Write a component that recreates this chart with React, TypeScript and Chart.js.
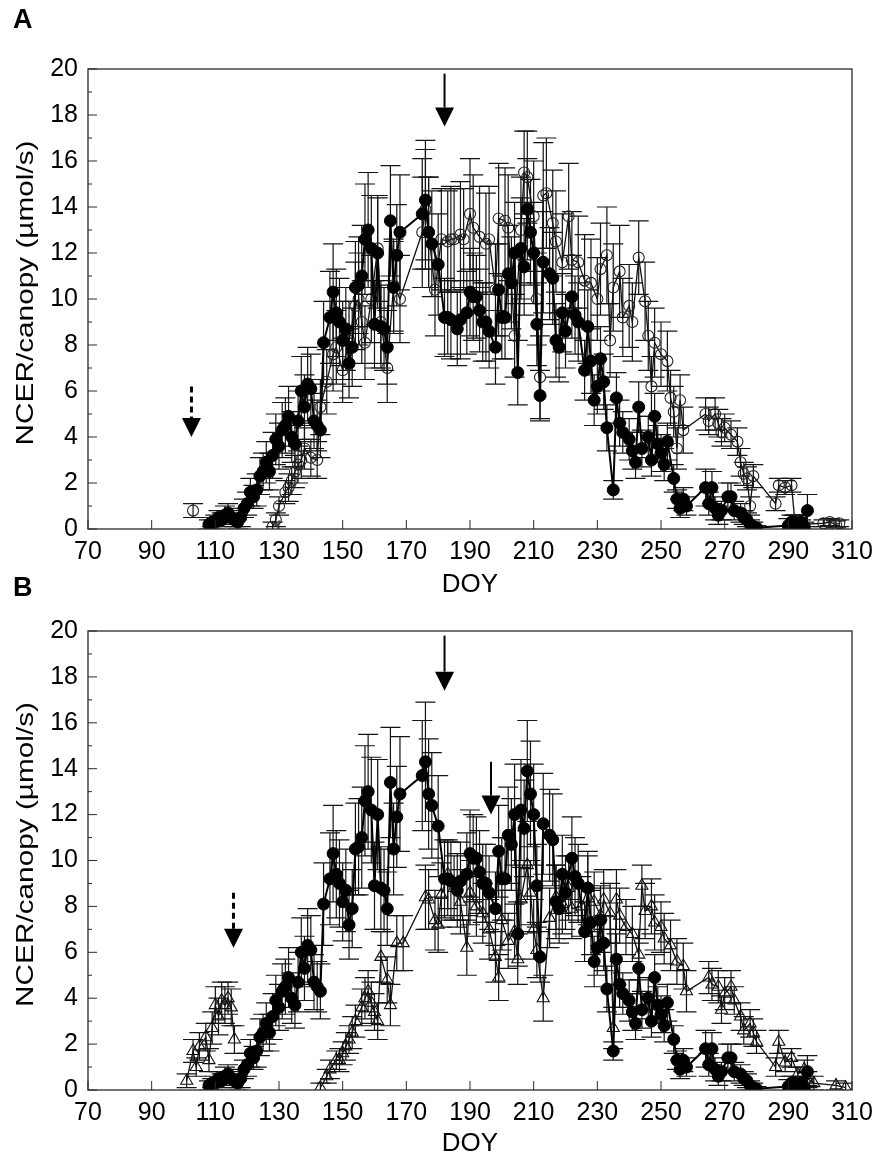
import { useEffect, useRef } from 'react';
import { Chart, registerables } from 'chart.js';

Chart.register(...registerables);

const FONT = "'Liberation Sans', Arial, sans-serif";

// axis ticks
const xTicks = [70, 90, 110, 130, 150, 170, 190, 210, 230, 250, 270, 290, 310];
const yTicks = [0, 2, 4, 6, 8, 10, 12, 14, 16, 18, 20];
const yMinorTicks = [1, 3, 5, 7, 9, 11, 13, 15, 17, 19];

// filled circles (same series in A and B)
const filledDoy = [
  108, 109, 110, 111, 112, 113, 114, 115, 116, 117, 118, 119, 120, 121, 122, 123, 124, 125, 126, 127,
  128, 129, 130, 131, 132, 133, 134, 135, 136, 137, 138, 139, 140, 141, 142, 143, 144, 146, 147, 148,
  149, 150, 151, 152, 153, 154, 155, 156, 157, 158, 159, 160, 161, 162, 163, 164, 165, 166, 167, 168,
  175, 176, 177, 178, 180, 182, 183, 184, 186, 187, 189, 190, 191, 192, 193, 194, 195, 196, 198, 199,
  200, 201, 202, 203, 204, 205, 206, 207, 208, 209, 210, 211, 212, 213, 215, 216, 217, 218, 219, 220,
  222, 223, 224, 226, 227, 228, 229, 230, 231, 232, 233, 235, 236, 237, 238, 240, 241, 242, 243, 244,
  246, 247, 248, 249, 250, 251, 252, 254, 255, 256, 257, 258, 264, 265, 266, 267, 268, 269, 271, 272,
  273, 275, 276, 277, 278, 279, 280, 290, 291, 292, 293, 294, 295, 296,
];
const filledMean = [
  0.2, 0.3, 0.3, 0.5, 0.4, 0.6, 0.7, 0.5, 0.4, 0.3, 0.5, 0.9, 1.1, 1.6, 1.4, 1.7, 2.3, 2.5, 2.9, 2.5,
  3.2, 3.9, 3.6, 4.3, 4.5, 4.9, 4.0, 3.7, 4.7, 6.0, 5.3, 6.3, 6.1, 4.7, 4.5, 4.3, 8.1, 9.2, 10.3, 9.4,
  9.0, 8.2, 8.7, 7.2, 7.9, 10.5, 10.6, 11.0, 12.6, 13.0, 12.2, 8.9, 12.0, 8.8, 8.7, 7.9, 13.4, 10.5, 11.9, 12.9,
  13.7, 14.3, 12.9, 12.4, 11.5, 9.2, 9.2, 9.1, 8.7, 9.1, 9.4, 10.3, 10.1, 10.1, 9.5, 9.0, 9.0, 8.6, 7.9, 10.4,
  9.2, 9.2, 11.1, 10.7, 12.0, 6.8, 12.2, 11.4, 13.9, 12.9, 12.0, 8.9, 5.8, 11.6, 11.1, 10.9, 8.2, 7.9, 9.4, 8.6,
  10.1, 9.3, 9.0, 6.9, 8.8, 7.3, 5.6, 6.2, 7.4, 6.4, 4.4, 1.7, 5.7, 4.6, 4.2, 3.9, 3.4, 2.9, 5.3, 3.5,
  4.0, 3.0, 4.9, 3.7, 3.3, 2.8, 3.8, 2.2, 1.3, 0.9, 1.3, 1.0, 1.8, 1.1, 1.8, 0.9, 0.6, 0.8, 1.4, 1.4,
  0.8, 0.7, 0.5, 0.4, 0.2, 0.1, 0.05, 0.15, 0.3, 0.3, 0.1, 0.3, 0.1, 0.8,
];
const filledSd = [
  0.2, 0.2, 0.3, 0.3, 0.3, 0.4, 0.4, 0.3, 0.3, 0.3, 0.4, 0.4, 0.5, 0.6, 0.5, 0.7, 0.8, 0.8, 0.9, 0.8,
  1.0, 1.1, 1.0, 1.2, 1.2, 1.3, 1.1, 1.0, 1.3, 1.5, 1.4, 1.6, 1.5, 1.2, 1.1, 1.2, 1.8, 2.0, 2.1, 1.9,
  1.9, 1.7, 1.8, 1.5, 1.7, 2.0, 2.1, 2.2, 2.4, 2.5, 2.3, 1.9, 2.4, 1.8, 1.8, 1.6, 2.4, 2.0, 2.2, 2.5,
  2.4, 2.6, 2.4, 2.3, 2.2, 1.7, 1.6, 1.7, 1.6, 1.7, 1.8, 1.9, 1.9, 1.8, 1.8, 1.7, 1.7, 1.6, 1.6, 2.0,
  1.8, 1.8, 2.1, 2.0, 2.2, 1.4, 2.2, 2.1, 2.2, 2.3, 2.2, 1.8, 1.1, 2.2, 2.0, 2.0, 1.6, 1.5, 1.7, 1.6,
  1.8, 1.7, 1.7, 1.3, 1.6, 1.4, 1.1, 1.2, 1.4, 1.2, 1.0, 0.4, 1.1, 1.0, 0.9, 0.9, 0.8, 0.7, 1.1, 0.8,
  0.9, 0.7, 1.0, 0.8, 0.8, 0.7, 0.8, 0.6, 0.4, 0.4, 0.5, 0.4, 0.8, 0.5, 0.7, 0.5, 0.4, 0.4, 0.6, 0.6,
  0.4, 0.4, 0.3, 0.3, 0.2, 0.2, 0.1, 0.3, 0.3, 0.3, 0.2, 0.3, 0.2, 0.7,
];

// open circles (panel A)
const openDoy = [
  103, 128, 129, 130, 132, 133, 134, 135, 136, 137, 138, 140, 142, 143, 145, 147, 148, 150, 152, 154,
  155, 156, 157, 159, 161, 162, 164, 166, 168, 175, 176, 177, 179, 181, 183, 184, 185, 187, 188, 190,
  191, 193, 195, 196, 198, 199, 201, 202, 204, 206, 207, 208, 210, 211, 212, 213, 214, 216, 217, 219,
  221, 222, 224, 226, 228, 230, 231, 233, 234, 235, 237, 238, 240, 241, 243, 245, 246, 247, 248, 250,
  252, 253, 254, 255, 256, 257, 264, 265, 267, 268, 269, 270, 272, 274, 275, 276, 277, 278, 279, 286,
  287, 289, 291, 292, 294, 301, 303, 305, 306,
];
const openMean = [
  0.8, 0.1, 0.4, 1.0, 1.6, 1.8, 2.1, 2.5, 2.8, 3.0, 3.5, 3.1, 3.0, 5.3, 6.4, 7.6, 7.9, 6.9, 8.2, 9.7,
  10.0, 9.0, 8.1, 10.0, 12.2, 9.0, 7.0, 10.6, 10.0, 12.9, 13.9, 12.9, 10.4, 12.6, 12.5, 12.6, 12.6, 12.8, 12.6, 13.7,
  13.1, 12.7, 12.4, 12.6, 10.4, 13.5, 13.4, 13.1, 8.4, 13.0, 15.5, 15.3, 13.6, 10.0, 6.6, 14.5, 14.6, 13.3, 12.5, 11.6,
  13.6, 11.7, 11.6, 10.8, 10.7, 10.0, 11.3, 11.9, 8.2, 10.5, 11.2, 9.2, 9.7, 9.0, 11.8, 9.9, 8.4, 6.2, 8.1, 7.6,
  7.3, 5.7, 5.1, 3.5, 5.6, 4.3, 5.0, 4.7, 5.0, 4.6, 4.2, 4.4, 4.1, 3.8, 2.9, 2.4, 2.2, 1.0, 2.3, 1.1,
  1.9, 1.8, 1.9, 0.4, 0.2, 0.25, 0.3, 0.2, 0.25,
];
const openSd = [
  0.3, 0.2, 0.3, 0.4, 0.5, 0.6, 0.6, 0.7, 0.8, 0.8, 0.9, 0.8, 0.8, 1.2, 1.4, 1.6, 1.6, 1.4, 1.7, 1.9,
  2.0, 1.8, 1.6, 1.9, 2.3, 1.8, 1.5, 2.0, 1.9, 2.4, 2.6, 2.4, 2.0, 2.2, 2.2, 2.3, 2.2, 2.3, 2.2, 2.4,
  2.3, 2.2, 2.2, 2.3, 2.0, 2.4, 2.3, 2.3, 1.8, 2.3, 1.8, 2.0, 2.4, 2.0, 1.8, 2.3, 2.4, 2.3, 2.2, 2.1,
  2.3, 2.1, 2.0, 2.0, 1.9, 1.8, 2.0, 2.1, 1.6, 1.9, 2.0, 1.7, 1.8, 1.7, 1.6, 1.7, 1.5, 1.3, 1.5, 1.4,
  1.3, 1.2, 1.1, 0.9, 1.1, 1.0, 0.7, 0.6, 0.7, 0.6, 0.6, 0.6, 0.6, 0.6, 0.6, 0.5, 0.5, 0.4, 0.5, 0.3,
  0.3, 0.3, 0.3, 0.2, 0.2, 0.15, 0.15, 0.15, 0.15,
];

// open triangles (panel B)
const triDoy = [
  101, 103, 104, 105, 107, 108, 109, 110, 111, 112, 113, 114, 115, 116, 143, 145, 146, 148, 149, 150,
  151, 152, 153, 154, 156, 157, 158, 159, 160, 161, 162, 164, 165, 167, 169, 176, 177, 179, 180, 181,
  183, 185, 187, 189, 190, 192, 194, 196, 198, 199, 200, 202, 204, 205, 206, 208, 209, 210, 211, 213,
  215, 217, 219, 221, 222, 225, 227, 229, 231, 232, 234, 235, 236, 237, 239, 241, 243, 244, 245, 247,
  248, 250, 251, 253, 255, 257, 258, 265, 266, 268, 269, 270, 272, 273, 275, 276, 278, 279, 280, 286,
  287, 289, 291, 293, 295, 296, 298, 305, 308,
];
const triMean = [
  0.4, 1.7, 1.0, 1.9, 2.3, 1.3, 2.7, 3.7, 3.2, 3.9, 3.7, 4.0, 3.6, 2.2, 0.1, 0.6, 0.9, 1.3, 1.3, 1.6,
  1.9, 2.2, 2.5, 3.0, 3.6, 4.0, 4.3, 3.8, 3.4, 3.0, 5.8, 4.8, 3.7, 6.4, 6.4, 8.4, 8.3, 7.4, 7.2, 8.5,
  9.4, 8.8, 8.2, 6.2, 8.6, 8.0, 7.7, 7.0, 5.8, 4.9, 7.4, 6.5, 6.9, 5.7, 8.3, 9.8, 8.6, 7.0, 6.1, 4.0,
  7.5, 8.4, 8.1, 8.8, 7.9, 8.0, 8.8, 8.2, 7.6, 8.3, 7.7, 2.7, 8.3, 7.6, 7.1, 6.8, 5.9, 8.9, 7.8, 8.0,
  7.3, 7.1, 6.6, 6.3, 5.6, 5.4, 4.3, 4.9, 4.6, 4.5, 3.5, 4.2, 4.5, 3.9, 3.2, 2.6, 2.9, 2.5, 2.1, 1.0,
  2.1, 1.2, 1.4, 0.7, 0.9, 0.5, 0.3, 0.2, 0.1,
];
const triSd = [
  0.3, 0.5, 0.4, 0.6, 0.6, 0.5, 0.7, 0.8, 0.8, 0.8, 0.8, 0.7, 0.8, 0.6, 0.2, 0.3, 0.4, 0.4, 0.5, 0.5,
  0.6, 0.6, 0.7, 0.7, 0.8, 0.9, 0.9, 0.9, 0.8, 0.8, 1.1, 1.0, 0.9, 1.2, 1.2, 1.4, 1.3, 1.3, 1.2, 1.4,
  1.5, 1.4, 1.4, 1.2, 1.4, 1.3, 1.3, 1.3, 1.1, 1.0, 1.3, 1.2, 1.2, 1.1, 1.4, 1.5, 1.4, 1.3, 1.2, 1.0,
  1.3, 1.4, 1.3, 1.4, 1.3, 1.3, 1.4, 1.3, 1.3, 1.3, 1.3, 0.9, 1.3, 1.2, 1.2, 1.2, 1.1, 0.9, 1.2, 1.2,
  1.2, 1.1, 1.1, 1.1, 1.0, 1.0, 0.9, 0.7, 0.7, 0.7, 0.6, 0.7, 0.7, 0.6, 0.6, 0.6, 0.6, 0.6, 0.5, 0.4,
  0.5, 0.4, 0.4, 0.3, 0.4, 0.3, 0.3, 0.2, 0.2,
];

// treatment arrows: DOY, tail and tip in NCER units
const arrowsA = [
  { doy: 182, from: 19.8, to: 17.5, dashed: false },
  { doy: 102.5, from: 6.2, to: 4.0, dashed: true },
];
const arrowsB = [
  { doy: 182, from: 19.8, to: 17.4, dashed: false },
  { doy: 196.6, from: 14.3, to: 12.0, dashed: false },
  { doy: 115.7, from: 8.6, to: 6.2, dashed: true },
];

const Y_TITLE = 'NCER/canopy (µmol/s)';
const MAX_JOIN_GAP = 20; // days; longer gaps are not joined

type Arrow = { doy: number; from: number; to: number; dashed: boolean };

const decor = {
  id: 'decor',
  beforeDatasetsDraw(chart: any) {
    const { ctx, chartArea: a, scales } = chart;
    const x = scales.x;
    const y = scales.y;
    ctx.save();
    ctx.beginPath();
    ctx.rect(a.left, a.top, a.right - a.left, a.bottom - a.top);
    ctx.clip();
    ctx.strokeStyle = '#141414';
    ctx.lineWidth = 1.2;
    chart.data.datasets.forEach((ds: any) => {
      ds.data.forEach((p: any, i: number) => {
        const sd = ds.errors[i];
        const px = x.getPixelForValue(p.x);
        const hi = y.getPixelForValue(p.y + sd);
        const lo = y.getPixelForValue(p.y - sd);
        ctx.beginPath();
        ctx.moveTo(px, hi);
        ctx.lineTo(px, lo);
        ctx.moveTo(px - 10, hi);
        ctx.lineTo(px + 10, hi);
        ctx.moveTo(px - 10, lo);
        ctx.lineTo(px + 10, lo);
        ctx.stroke();
      });
    });
    ctx.restore();
  },
  afterDatasetsDraw(chart: any, _args: any, opts: any) {
    const { ctx, chartArea: a, scales } = chart;
    const x = scales.x;
    const y = scales.y;
    ctx.save();
    // frame
    ctx.strokeStyle = '#2a2a2a';
    ctx.lineWidth = 1.3;
    ctx.strokeRect(a.left, a.top, a.right - a.left, a.bottom - a.top);
    // inside ticks
    ctx.lineWidth = 1;
    ctx.beginPath();
    yTicks.forEach((v) => {
      const py = y.getPixelForValue(v);
      ctx.moveTo(a.left, py);
      ctx.lineTo(a.left + 9, py);
    });
    yMinorTicks.forEach((v) => {
      const py = y.getPixelForValue(v);
      ctx.moveTo(a.left, py);
      ctx.lineTo(a.left + 4, py);
    });
    xTicks.forEach((v) => {
      const px = x.getPixelForValue(v);
      ctx.moveTo(px, a.bottom);
      ctx.lineTo(px, a.bottom - 9);
    });
    ctx.stroke();
    // arrows
    (opts.arrows as Arrow[]).forEach((ar) => {
      const px = x.getPixelForValue(ar.doy);
      const top = y.getPixelForValue(ar.from);
      const tip = y.getPixelForValue(ar.to);
      const headTop = tip - 19;
      ctx.strokeStyle = '#000';
      ctx.fillStyle = '#000';
      ctx.lineWidth = ar.dashed ? 3 : 2;
      ctx.setLineDash(ar.dashed ? [6, 4] : []);
      ctx.beginPath();
      ctx.moveTo(px, top);
      ctx.lineTo(px, headTop);
      ctx.stroke();
      ctx.setLineDash([]);
      ctx.beginPath();
      ctx.moveTo(px - 9.5, headTop);
      ctx.lineTo(px + 9.5, headTop);
      ctx.lineTo(px, tip);
      ctx.closePath();
      ctx.fill();
    });
    // y axis title, drawn a little drawn-out along its length like the original
    ctx.fillStyle = '#000';
    ctx.font = `24px ${FONT}`;
    ctx.textAlign = 'center';
    ctx.textBaseline = 'middle';
    ctx.save();
    ctx.translate(26, (a.top + a.bottom) / 2 - 6);
    ctx.rotate(-Math.PI / 2);
    ctx.scale(1.24, 1);
    ctx.fillText(Y_TITLE, 0, 0);
    ctx.restore();
    // panel letter
    ctx.font = `bold 27px ${FONT}`;
    ctx.textAlign = 'left';
    ctx.textBaseline = 'alphabetic';
    ctx.fillText(opts.letter, 13, opts.letterY);
    ctx.restore();
  },
};

const gapSegment = {
  borderColor: (c: any) => (c.p1.parsed.x - c.p0.parsed.x > MAX_JOIN_GAP ? 'rgba(0,0,0,0)' : undefined),
};

const toPoints = (doy: number[], mean: number[]) => doy.map((d, i) => ({ x: d, y: mean[i] }));

const filledSet = () => ({
  data: toPoints(filledDoy, filledMean),
  errors: filledSd,
  showLine: true,
  borderColor: '#000',
  borderWidth: 2,
  pointStyle: 'circle',
  pointRadius: 6,
  pointBorderWidth: 1,
  pointBackgroundColor: '#000',
  pointBorderColor: '#000',
  segment: gapSegment,
});

const openSet = {
  data: toPoints(openDoy, openMean),
  errors: openSd,
  showLine: true,
  borderColor: '#111',
  borderWidth: 1.3,
  pointStyle: 'circle',
  pointRadius: 5.5,
  pointBorderWidth: 1.1,
  pointBackgroundColor: 'rgba(255,255,255,0)',
  pointBorderColor: '#222',
  segment: gapSegment,
};

const triSet = {
  data: toPoints(triDoy, triMean),
  errors: triSd,
  showLine: true,
  borderColor: '#111',
  borderWidth: 1.3,
  pointStyle: 'triangle',
  pointRadius: 7,
  pointBorderWidth: 1.1,
  pointBackgroundColor: 'rgba(255,255,255,0)',
  pointBorderColor: '#111',
  segment: gapSegment,
};

type PanelProps = {
  top: number;
  areaTop: number;
  letter: string;
  letterY: number;
  doyPad: number;
  second: any;
  arrows: Arrow[];
};

const Panel = ({ top, areaTop, letter, letterY, doyPad, second, arrows }: PanelProps) => {
  const chartRef = useRef<HTMLCanvasElement>(null);

  useEffect(() => {
    if (!chartRef.current) return;
    const tickFont = { family: FONT, size: 25 };
    const chart = new Chart(chartRef.current, {
      type: 'scatter',
      data: { datasets: [filledSet(), second] as any },
      options: {
        animation: false,
        responsive: false,
        layout: { padding: { top: areaTop, right: 38, left: 0, bottom: 0 } },
        plugins: {
          legend: { display: false },
          tooltip: { enabled: false },
          decor: { letter, letterY, arrows },
        } as any,
        scales: {
          x: {
            type: 'linear',
            min: 70,
            max: 310,
            afterBuildTicks: (s: any) => {
              s.ticks = xTicks.map((v) => ({ value: v }));
            },
            afterFit: (s: any) => {
              s.height = 600 - 529;
            },
            grid: { display: false, drawTicks: false },
            border: { display: false },
            ticks: { font: tickFont, color: '#000', padding: 8, maxRotation: 0, autoSkip: false },
            title: { display: true, text: 'DOY', font: { family: FONT, size: 26 }, color: '#000', padding: { top: 0, bottom: doyPad } },
          },
          y: {
            min: 0,
            max: 20,
            afterBuildTicks: (s: any) => {
              s.ticks = yTicks.map((v) => ({ value: v }));
            },
            afterFit: (s: any) => {
              s.width = 88;
            },
            grid: { display: false, drawTicks: false },
            border: { display: false },
            ticks: { font: tickFont, color: '#000', padding: 10 },
          },
        },
      },
      plugins: [decor],
    });
    return () => chart.destroy();
  }, []);

  return (
    <canvas
      ref={chartRef}
      width={890}
      height={600}
      style={{ position: 'absolute', left: 0, top, width: 890, height: 600 }}
    />
  );
};

const App = () => (
  <div style={{ position: 'absolute', left: 0, top: 0, width: 890, height: 1162, background: '#fff' }}>
    <Panel top={0} areaTop={69} letter="A" letterY={28} doyPad={0} second={openSet} arrows={arrowsA} />
    <Panel top={561} areaTop={70} letter="B" letterY={35} doyPad={2} second={triSet} arrows={arrowsB} />
  </div>
);

export default App;
